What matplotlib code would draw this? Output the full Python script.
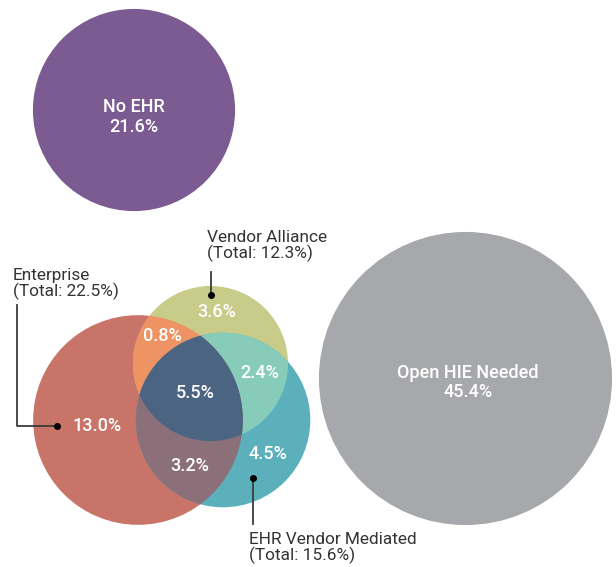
import numpy as np
import matplotlib.pyplot as plt
from matplotlib.patches import Circle, Polygon

plt.rcParams['font.family'] = ['Roboto', 'DejaVu Sans']

# totals (circle areas)
single_names = ['No EHR', 'Open HIE Needed']
single_vals = [21.6, 45.4]
venn_names = ['Enterprise', 'Vendor Alliance', 'EHR Vendor Mediated']
venn_totals = [22.5, 12.3, 15.6]

# region shares
only_vals = [13.0, 3.6, 4.5]          # enterprise, alliance, vendor mediated
pair_vals = {(0, 1): 0.8, (1, 2): 2.4, (0, 2): 3.2}
triple_val = 5.5

# layout (pixel coords)
single_xy = [(134, 110), (465.5, 378.5)]
single_col = ['#7c5b93', '#a7a8ab']
venn_xy = [(138, 420), (210.5, 363.5), (223, 420)]
venn_col = ['#c87468', '#c9cc88', '#5bb0bc']
pair_col = {(0, 1): '#ee9364', (1, 2): '#86ccb9', (0, 2): '#8b707a'}
triple_col = '#4a6482'

fig = plt.figure(figsize=(6.16, 5.67), dpi=100)
ax = fig.add_axes([0, 0, 1, 1])
ax.set_xlim(0, 616)
ax.set_ylim(567, 0)
ax.set_aspect('equal')
ax.axis('off')


def lens(idx):
    # convex intersection of circles as polygon
    pts = []
    t = np.linspace(0, 2 * np.pi, 2000, endpoint=False)
    for i in idx:
        cx, cy = venn_xy[i]
        r = 22.1 * np.sqrt(venn_totals[i])
        p = np.column_stack([cx + r * np.cos(t), cy + r * np.sin(t)])
        ok = np.ones(len(p), bool)
        for j in idx:
            if j == i:
                continue
            jx, jy = venn_xy[j]
            rj = 22.1 * np.sqrt(venn_totals[j])
            ok &= (p[:, 0] - jx) ** 2 + (p[:, 1] - jy) ** 2 <= rj ** 2 + 1e-6
        pts.append(p[ok])
    pts = np.vstack(pts)
    c = pts.mean(axis=0)
    ang = np.arctan2(pts[:, 1] - c[1], pts[:, 0] - c[0])
    return pts[np.argsort(ang)]


for (x, y), v, col in zip(single_xy, single_vals, single_col):
    ax.add_patch(Circle((x, y), 21.75 * np.sqrt(v), fc=col, ec='none'))

for (x, y), v, col in zip(venn_xy, venn_totals, venn_col):
    ax.add_patch(Circle((x, y), 22.1 * np.sqrt(v), fc=col, ec='none'))

for k in pair_vals:
    ax.add_patch(Polygon(lens(k), closed=True, fc=pair_col[k], ec='none'))
ax.add_patch(Polygon(lens((0, 1, 2)), closed=True, fc=triple_col, ec='none'))

wt = dict(color='white', fontsize=13, fontweight='medium', ha='center', va='center')
ax.text(134, 107, single_names[0], **wt)
ax.text(134, 127, f'{single_vals[0]}%', **wt)
ax.text(468, 373, single_names[1], **wt)
ax.text(468, 392, f'{single_vals[1]}%', **wt)

only_pos = [(97, 426), (217, 312), (268, 454)]
for (x, y), v in zip(only_pos, only_vals):
    ax.text(x, y, f'{v}%', **wt)
pair_pos = {(0, 1): (162, 336), (1, 2): (260, 373), (0, 2): (190, 466)}
for k, v in pair_vals.items():
    ax.text(*pair_pos[k], f'{v}%', **wt)
ax.text(195, 393, f'{triple_val}%', **wt)

# callouts
lc = '#3a3a3a'
bt = dict(color='#333333', fontsize=12.4, ha='left', va='center', linespacing=1.05)
ax.text(13, 284, f'{venn_names[0]}\n(Total: {venn_totals[0]}%)', **bt)
ax.plot([17, 17, 57], [305, 426, 426], color=lc, lw=1.3)
ax.plot(57, 426, 'o', color='black', ms=4)

ax.text(207, 246, f'{venn_names[1]}\n(Total: {venn_totals[1]}%)', **bt)
ax.plot([211, 211], [272, 295], color=lc, lw=1.3)
ax.plot(211, 295, 'o', color='black', ms=4)

ax.text(249, 548, f'{venn_names[2]}\n(Total: {venn_totals[2]}%)', **bt)
ax.plot([253, 253], [478, 524], color=lc, lw=1.3)
ax.plot(253, 478, 'o', color='black', ms=4)

fig.savefig('out.png', dpi=100)
